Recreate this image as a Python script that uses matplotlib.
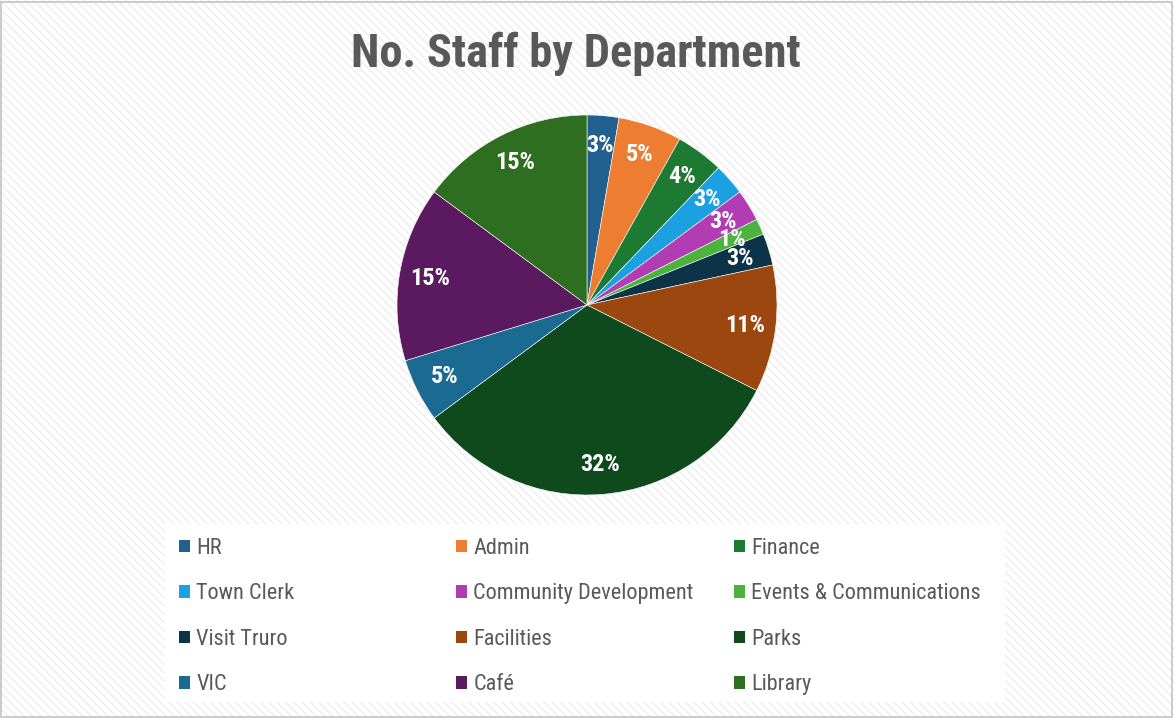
#!/usr/bin/env python3

import numpy as np
import matplotlib
matplotlib.use("Agg")
import matplotlib.pyplot as plt
from matplotlib.patches import Rectangle, Patch

# ------------------------------------------------------------------------
# staff head count per department
departments = ["HR", "Admin", "Finance", "Town Clerk", "Community Development",
               "Events & Communications", "Visit Truro", "Facilities", "Parks",
               "VIC", "Café", "Library"]
staff = [2, 4, 3, 2, 2, 1, 2, 8, 24, 4, 11, 11]
colours = ["#22608f", "#ed7d31", "#1d7a33", "#1ba1e2", "#b23cb4", "#4db33f",
           "#0d3349", "#9c470f", "#0f4a1d", "#1b6a91", "#5b1a5f", "#2e6e20"]

plt.rcParams['font.family'] = ['Roboto Condensed', 'DejaVu Sans']
plt.rcParams['hatch.linewidth'] = 0.8

W, H = 1174, 718
fig = plt.figure(figsize=(W / 100, H / 100), dpi=100)
fig.patch.set_facecolor("white")

# striped background + border
fig.patches.append(Rectangle((0, 0), 1, 1, transform=fig.transFigure, facecolor="white",
                             edgecolor="#ebebeb", hatch="\\\\\\\\", linewidth=0, zorder=-10))
fig.patches.append(Rectangle((1 / W, 1 / H), 1 - 3 / W, 1 - 3 / H,
                             transform=fig.transFigure, fill=False,
                             edgecolor="#c4c4c4", linewidth=1.2, zorder=5))

fig.text(576 / W, 1 - 54 / H, "No. Staff by Department", ha="center", va="center",
         fontsize=33.5, fontweight="bold", color="#595959")

# ------------------------------------------------------------------------
# pie
cx, cy, r = 587, 305, 190
ax = fig.add_axes([(cx - r) / W, 1 - (cy + r) / H, 2 * r / W, 2 * r / H])
wedges, texts, autotexts = ax.pie(staff, colors=colours, startangle=90,
                                  counterclock=False, autopct="%.0f%%",
                                  pctdistance=0.84, radius=1,
                                  wedgeprops=dict(edgecolor="white", linewidth=0.4))
for t in autotexts:
    t.set_color("white")
    t.set_fontsize(17.5)
    t.set_fontweight("bold")
ax.set_xlim(-1, 1)
ax.set_ylim(-1, 1)
ax.set_aspect("equal")
ax.axis("off")

# ------------------------------------------------------------------------
# legend panel, three columns filled row-wise
fig.patches.append(Rectangle((165 / W, 1 - 702 / H), 840 / W, 178 / H,
                             transform=fig.transFigure, facecolor="white",
                             edgecolor="none", zorder=0))
col_x = [179, 456, 734]
for c in range(3):
    idx = list(range(c, 12, 3))
    handles = [Patch(facecolor=colours[i], edgecolor="none") for i in idx]
    leg = fig.legend(handles, [departments[i] for i in idx],
                     loc="upper left", bbox_to_anchor=(col_x[c] / W, 1 - 538 / H),
                     frameon=False, fontsize=16, labelcolor="#595959",
                     handlelength=0.48, handleheight=0.48, handletextpad=0.3,
                     labelspacing=1.1, borderaxespad=0, borderpad=0)
    leg.set_zorder(2)

fig.savefig("out.png", dpi=100, facecolor=fig.get_facecolor())
